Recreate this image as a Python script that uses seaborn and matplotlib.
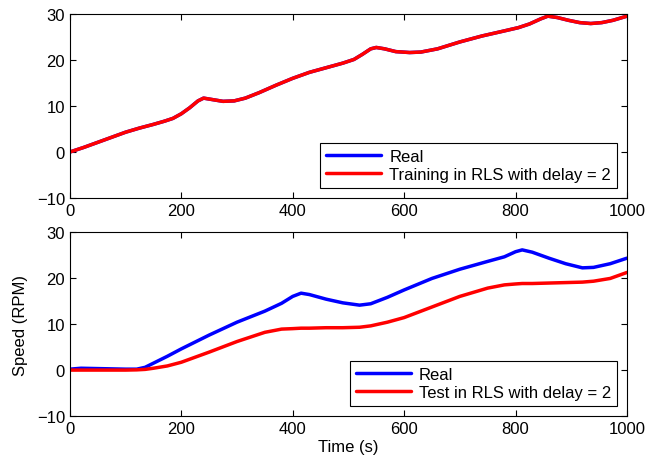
import matplotlib
matplotlib.use('Agg')
import matplotlib.pyplot as plt
import seaborn as sns
import pandas as pd

# top panel: training (real and model lie on top of each other)
t_train = [0, 25, 50, 75, 100, 125, 150, 170, 185, 200, 215, 230, 240, 255, 275, 295, 315, 340,
           370, 400, 430, 460, 490, 510, 525, 540, 550, 565, 585, 610, 630, 660, 700, 740, 780,
           805, 825, 845, 858, 875, 895, 915, 935, 955, 975, 1000]
real_train = [0, 1.0, 2.1, 3.2, 4.3, 5.2, 6.0, 6.7, 7.3, 8.3, 9.6, 11.1, 11.7, 11.4, 11.0, 11.1, 11.7, 12.9,
              14.5, 16.0, 17.3, 18.3, 19.3, 20.1, 21.2, 22.4, 22.7, 22.4, 21.8, 21.6, 21.7, 22.4, 23.9, 25.2, 26.3,
              27.0, 27.8, 28.9, 29.5, 29.2, 28.6, 28.1, 27.9, 28.1, 28.6, 29.5]
rls_train = real_train

# bottom panel: test
t_test = [0, 20, 60, 100, 120, 135, 150, 175, 200, 250, 300, 350, 380, 400, 415, 430, 460, 490,
          520, 540, 570, 600, 650, 700, 750, 780, 800, 812, 830, 860, 890, 920, 940, 970, 1000]
real_test = [0.2, 0.4, 0.3, 0.2, 0.2, 0.6, 1.5, 3.0, 4.6, 7.6, 10.4, 12.8, 14.5, 16.0, 16.7, 16.4, 15.4, 14.6,
             14.1, 14.4, 15.8, 17.4, 19.9, 21.9, 23.6, 24.6, 25.7, 26.1, 25.6, 24.3, 23.1, 22.2, 22.3, 23.1, 24.3]
rls_test = [0, 0, 0, 0, 0.05, 0.15, 0.4, 0.9, 1.7, 3.9, 6.2, 8.2, 8.9, 9.0, 9.1, 9.1, 9.2, 9.2,
            9.3, 9.6, 10.4, 11.4, 13.7, 16.0, 17.8, 18.5, 18.7, 18.8, 18.8, 18.9, 19.0, 19.1, 19.3, 19.9, 21.2]

sns.set_style('ticks', {'xtick.direction': 'in', 'ytick.direction': 'in'})
plt.rcParams['font.family'] = ['Liberation Sans', 'DejaVu Sans']
plt.rcParams['font.size'] = 12
plt.rcParams['axes.linewidth'] = 0.8
plt.rcParams['text.color'] = 'black'
plt.rcParams['axes.labelcolor'] = 'black'

fig = plt.figure(figsize=(6.47, 4.64), dpi=100)
ax1 = fig.add_axes([0.108, 0.571, 0.861, 0.397])
ax2 = fig.add_axes([0.108, 0.101, 0.861, 0.397])

df_train = pd.DataFrame({'t': t_train, 'Real': real_train, 'Training in RLS with delay = 2': rls_train})
df_test = pd.DataFrame({'t': t_test, 'Real': real_test, 'Test in RLS with delay = 2': rls_test})

for ax, df, lab in [(ax1, df_train, 'Training in RLS with delay = 2'),
                    (ax2, df_test, 'Test in RLS with delay = 2')]:
    sns.lineplot(data=df, x='t', y='Real', ax=ax, color='#0000ff', lw=2.5, label='Real')
    sns.lineplot(data=df, x='t', y=lab, ax=ax, color='#ff0000', lw=2.5, label=lab)
    ax.set_xlim(0, 1000)
    ax.set_ylim(-10, 30)
    ax.set_xticks([0, 200, 400, 600, 800, 1000])
    ax.set_yticks([-10, 0, 10, 20, 30])
    ax.set_yticklabels(['\u221210', '0', '10', '20', '30'])
    ax.tick_params(top=True, right=True, length=4, width=0.8, labelsize=12, colors='black')
    for s in ax.spines.values():
        s.set_visible(True)
        s.set_color('black')
    ax.set_xlabel('')
    ax.set_ylabel('')
    leg = ax.legend(loc='lower right', fontsize=12, frameon=True, fancybox=False,
                    edgecolor='black', framealpha=1, handlelength=3.3,
                    borderaxespad=0.6, borderpad=0.35, labelspacing=0.2, handletextpad=0.5)
    leg.get_frame().set_linewidth(0.8)

ax2.set_xlabel('Time (s)', fontsize=12, labelpad=2)
ax2.set_ylabel('Speed (RPM)', fontsize=12, labelpad=6)

fig.savefig('out.png', dpi=100)
